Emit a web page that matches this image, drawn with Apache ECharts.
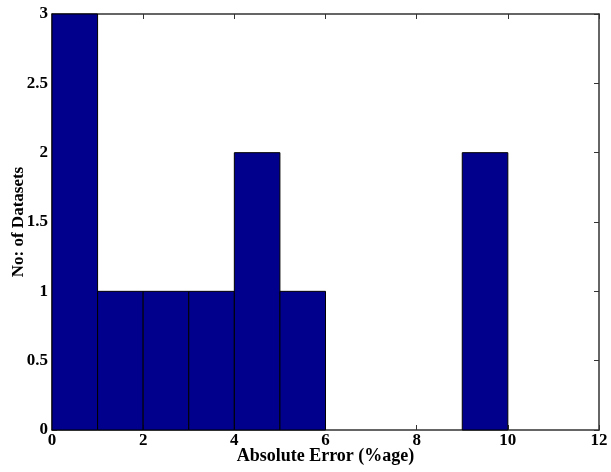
<!DOCTYPE html>
<html>
<head>
<meta charset="utf-8">
<script src="https://cdn.jsdelivr.net/npm/echarts@6/dist/echarts.min.js"></script>
<style>
  html, body { margin: 0; padding: 0; background: #fff; }
  #chart { width: 611px; height: 472px; }
</style>
</head>
<body>
<div id="chart"></div>
<script>
// histogram bins (left edge, right edge) and counts
var binStart = [0, 1, 2, 3, 4, 5, 6, 7, 8, 9];
var binEnd = [1, 2, 3, 4, 5, 6, 7, 8, 9, 10];
var counts = [3, 1, 1, 1, 2, 1, 0, 0, 0, 2];

var font = 'Liberation Serif';
var myChart = echarts.init(document.getElementById('chart'));

var data = [];
for (var i = 0; i < counts.length; i++) {
  if (counts[i] > 0) data.push([binStart[i], binEnd[i], counts[i]]);
}

var axisLine = { show: true, onZero: false, lineStyle: { color: '#333', width: 1.5 } };
var tick = { show: true, inside: true, length: 5, lineStyle: { color: '#333' } };

var option = {
  backgroundColor: '#fff',
  animation: false,
  grid: { left: 52, right: 12, top: 14, bottom: 42, containLabel: false, outerBoundsMode: 'none' },
  xAxis: [{
    type: 'value', min: 0, max: 12, interval: 2,
    name: 'Absolute Error (%age)', nameLocation: 'middle', nameGap: 17, nameMoveOverlap: false,
    nameTextStyle: { fontFamily: font, fontWeight: 'bold', fontSize: 18, color: '#000' },
    axisLine: axisLine, axisTick: tick, splitLine: { show: false },
    axisLabel: { fontFamily: font, fontWeight: 'bold', fontSize: 17, color: '#000', margin: 2 }
  }, {
    type: 'value', min: 0, max: 12, interval: 2, position: 'top',
    axisLine: axisLine, axisTick: tick, splitLine: { show: false },
    axisLabel: { show: false }
  }],
  yAxis: [{
    type: 'value', min: 0, max: 3, interval: 0.5,
    name: 'No: of Datasets', nameLocation: 'middle', nameGap: 25, nameMoveOverlap: false,
    nameTextStyle: { fontFamily: font, fontWeight: 'bold', fontSize: 17, color: '#000' },
    axisLine: axisLine, axisTick: tick, splitLine: { show: false },
    axisLabel: { fontFamily: font, fontWeight: 'bold', fontSize: 17, color: '#000', margin: 4 }
  }, {
    type: 'value', min: 0, max: 3, interval: 0.5, position: 'right',
    axisLine: axisLine, axisTick: tick, splitLine: { show: false },
    axisLabel: { show: false }
  }],
  series: [{
    type: 'custom',
    data: data,
    encode: { x: [0, 1], y: 2 },
    renderItem: function (params, api) {
      var p0 = api.coord([api.value(0), api.value(2)]);
      var p1 = api.coord([api.value(1), 0]);
      return {
        type: 'rect',
        shape: { x: p0[0], y: p0[1], width: p1[0] - p0[0], height: p1[1] - p0[1] },
        style: { fill: '#00008c', stroke: '#000', lineWidth: 1 }
      };
    }
  }]
};

myChart.setOption(option, true);
</script>
</body>
</html>
